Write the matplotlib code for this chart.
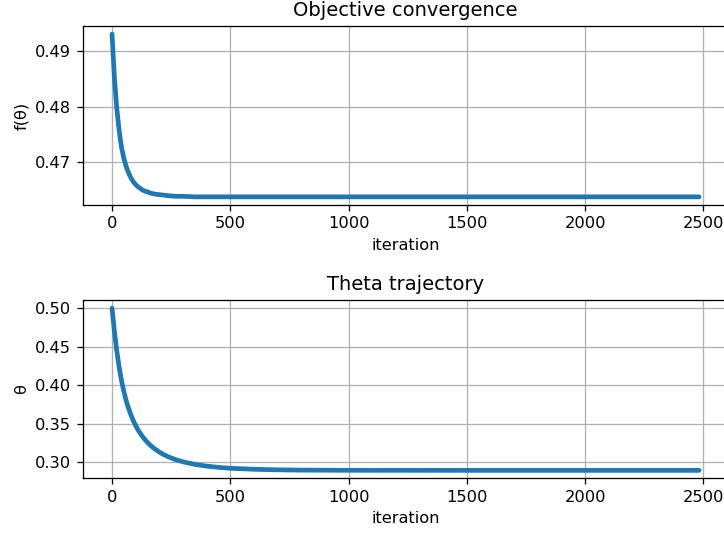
import matplotlib.pyplot as plt

# readings taken off the curves (iteration -> value)
iterations = [0, 10, 20, 30, 40, 50, 60, 70, 80, 90, 100, 110, 120, 130, 140,
              150, 160, 180, 200, 220, 240, 270, 300, 350, 400, 450, 500, 600,
              700, 800, 1000, 1500, 2000, 2482]
theta_vals = [0.5000, 0.4698, 0.4446, 0.4235, 0.4059, 0.3917, 0.3797, 0.3697,
              0.3611, 0.3537, 0.3474, 0.3418, 0.3370, 0.3327, 0.3289, 0.3255,
              0.3224, 0.3173, 0.3130, 0.3095, 0.3066, 0.3031, 0.3004, 0.2971,
              0.2948, 0.2932, 0.2920, 0.2907, 0.2900, 0.2896, 0.2894, 0.2893,
              0.2893, 0.2893]
f_vals = [0.4930, 0.4852, 0.4797, 0.4757, 0.4727, 0.4707, 0.4692, 0.4681,
          0.4672, 0.4665, 0.4660, 0.4656, 0.4653, 0.4650, 0.4648, 0.4647,
          0.4645, 0.4643, 0.4642, 0.4641, 0.4640, 0.4639, 0.4639, 0.4638,
          0.4638, 0.4638, 0.4638, 0.4638, 0.4638, 0.4638, 0.4638, 0.4638,
          0.4638, 0.4638]

f_ticks = [0.47, 0.48, 0.49]
theta_ticks = [0.30, 0.35, 0.40, 0.45, 0.50]
x_ticks = [0, 500, 1000, 1500, 2000, 2500]

# the reference is rendered about 1.17x larger than a plain 100 dpi figure
DPI = 117
fig = plt.figure(figsize=(724 / DPI, 533 / DPI), dpi=DPI)
ax1 = fig.add_axes([0.1142, 0.6154, 0.892, 0.3358])
ax2 = fig.add_axes([0.1142, 0.1023, 0.892, 0.3349])

line_kw = dict(color='#1f77b4', linewidth=2.9, solid_capstyle='round',
               solid_joinstyle='round')

ax1.plot(iterations, f_vals, **line_kw)
ax1.set_title('Objective convergence')
ax1.set_xlabel('iteration')
ax1.set_ylabel('f(θ)')
ax1.set_yticks(f_ticks)
ax1.set_xticks(x_ticks)
ax1.grid(True)

ax2.plot(iterations, theta_vals, **line_kw)
ax2.set_title('Theta trajectory')
ax2.set_xlabel('iteration')
ax2.set_ylabel('θ')
ax2.set_yticks(theta_ticks)
ax2.set_xticks(x_ticks)
ax2.grid(True)

fig.savefig('out.png', dpi=DPI)
